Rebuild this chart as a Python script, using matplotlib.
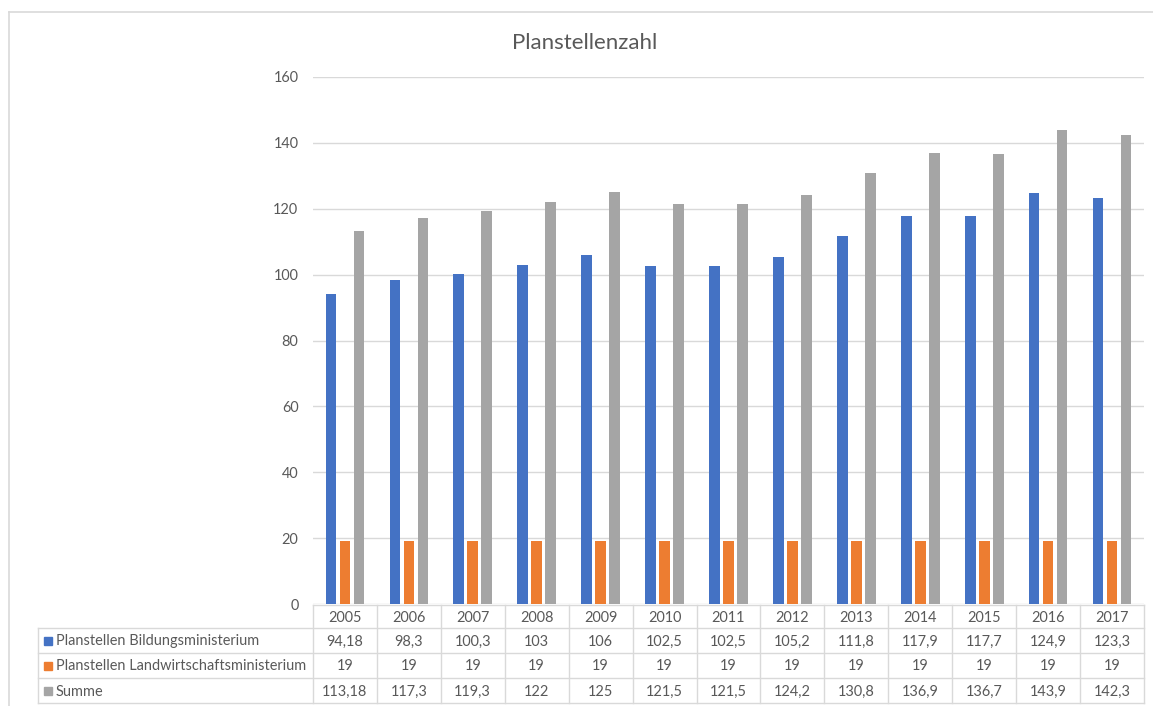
import matplotlib
matplotlib.use("Agg")
import matplotlib.pyplot as plt
from matplotlib.transforms import blended_transform_factory
from matplotlib.patches import Rectangle
from matplotlib.lines import Line2D

# --- data -------------------------------------------------------------
years = ["2005", "2006", "2007", "2008", "2009", "2010", "2011",
         "2012", "2013", "2014", "2015", "2016", "2017"]
bildung = [94.18, 98.3, 100.3, 103, 106, 102.5, 102.5,
           105.2, 111.8, 117.9, 117.7, 124.9, 123.3]
landwirtschaft = [19, 19, 19, 19, 19, 19, 19, 19, 19, 19, 19, 19, 19]
summe = [113.18, 117.3, 119.3, 122, 125, 121.5, 121.5,
         124.2, 130.8, 136.9, 136.7, 143.9, 142.3]
series_names = ["Planstellen Bildungsministerium",
                "Planstellen Landwirtschaftsministerium",
                "Summe"]
series_values = [bildung, landwirtschaft, summe]
colors = ["#4472C4", "#ED7D31", "#A5A5A5"]
yticks = [0, 20, 40, 60, 80, 100, 120, 140, 160]
title = "Planstellenzahl"

# --- style ------------------------------------------------------------
plt.rcParams["font.family"] = ["Lato", "DejaVu Sans"]
TEXT = "#595959"
GRID = "#D9D9D9"
FS = 10.45

W, H = 1153, 706
fig = plt.figure(figsize=(W / 100, H / 100), dpi=100)
fig.patch.set_facecolor("white")


def fx(px):
    return px / W


def fy(py):
    return 1 - py / H


# --- plot area ----------------------------------------------------------
ax = fig.add_axes([fx(313), fy(604), fx(1144) - fx(313), fy(77) - fy(604)])
ax.set_xlim(-0.5, len(years) - 0.5)
ax.set_ylim(0, 160)
for s in ax.spines.values():
    s.set_visible(False)
ax.set_yticks(yticks)
ax.set_yticklabels([str(t) for t in yticks], color=TEXT, fontsize=FS)
ax.tick_params(axis="y", length=0, pad=10.5)
ax.set_xticks([])
ax.yaxis.grid(True, color=GRID, linewidth=1.0)
ax.set_axisbelow(True)

step = 0.219
width = 0.167
xs = list(range(len(years)))
for k, (vals, col) in enumerate(zip(series_values, colors)):
    off = (k - 1) * step
    ax.bar([x + off for x in xs], vals, width=width, color=col, zorder=3)

fig.text(fx(585), fy(43), title, ha="center", va="center",
         fontsize=16, color=TEXT)

# --- data table -----------------------------------------------------------
tb = blended_transform_factory(ax.transData, fig.transFigure)
row_lines = [605, 628, 653, 678, 703]
lw = 1.0

# horizontal rules
fig.add_artist(Line2D([fx(313), fx(1144)], [fy(605)] * 2, color=GRID, lw=lw,
                      transform=fig.transFigure))
for r in row_lines[1:]:
    fig.add_artist(Line2D([fx(38), fx(1144)], [fy(r)] * 2, color=GRID, lw=lw,
                          transform=fig.transFigure))
# vertical rules
fig.add_artist(Line2D([fx(38)] * 2, [fy(628), fy(703)], color=GRID, lw=lw,
                      transform=fig.transFigure))
for i in range(len(years) + 1):
    fig.add_artist(Line2D([i - 0.5] * 2, [fy(605), fy(703)], color=GRID, lw=lw,
                          transform=tb))

# header row with years
ymid = (row_lines[0] + row_lines[1]) / 2 + 1
for i, yr in enumerate(years):
    fig.text(i, fy(ymid), yr, transform=tb, ha="center", va="center",
             fontsize=FS, color=TEXT)


def fmt(v):
    return f"{v:g}".replace(".", ",")


for k, (name, vals, col) in enumerate(zip(series_names, series_values, colors)):
    yc = (row_lines[k + 1] + row_lines[k + 2]) / 2
    fig.add_artist(Rectangle((fx(44), fy(yc + 4)), fx(8), 8 / H,
                             color=col, transform=fig.transFigure))
    fig.text(fx(56), fy(yc + 1), name, ha="left", va="center",
             fontsize=FS, color=TEXT)
    for i, v in enumerate(vals):
        fig.text(i, fy(yc + 1), fmt(v), transform=tb, ha="center", va="center",
                 fontsize=FS, color=TEXT)

# chart frame
fig.add_artist(Line2D([fx(9), 1], [fy(11.5)] * 2, color=GRID, lw=1.2,
                      transform=fig.transFigure))
fig.add_artist(Line2D([fx(9)] * 2, [fy(11.5), 0], color=GRID, lw=1.2,
                      transform=fig.transFigure))

fig.savefig("out.png", dpi=100)
